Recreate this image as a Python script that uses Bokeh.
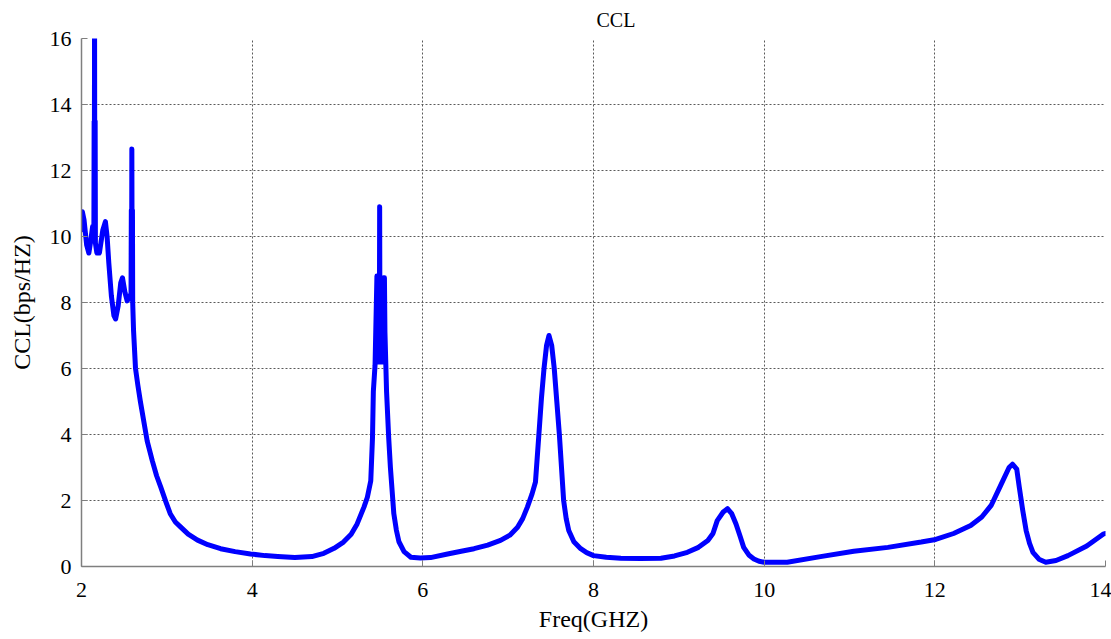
from bokeh.plotting import figure
from bokeh.models import Range1d, FixedTicker
from bokeh.embed import file_html
from bokeh.resources import INLINE

freq = [2.000, 2.010, 2.030, 2.060, 2.086, 2.110, 2.130, 2.145, 2.148, 2.150, 2.153, 2.156,
        2.160, 2.163,
        2.180, 2.210, 2.250, 2.280, 2.300, 2.320, 2.350, 2.380, 2.400, 2.430, 2.460, 2.480,
        2.510, 2.535, 2.560, 2.580, 2.584, 2.587, 2.590, 2.594, 2.597, 2.600, 2.610, 2.633,
        2.660, 2.690,
        2.730, 2.770, 2.830, 2.880, 2.930, 2.990, 3.040, 3.100, 3.160, 3.250, 3.360, 3.480,
        3.630, 3.800, 3.980, 4.150, 4.300, 4.500, 4.700, 4.840, 4.960, 5.070, 5.160, 5.230,
        5.310, 5.350, 5.390, 5.410, 5.420, 5.440,
        5.462, 5.466, 5.470, 5.474, 5.478, 5.482, 5.486, 5.490, 5.494, 5.498, 5.502, 5.506,
        5.510, 5.514, 5.518, 5.522, 5.526, 5.530, 5.534, 5.538, 5.542, 5.546, 5.550, 5.556,
        5.575, 5.600, 5.620, 5.640, 5.660, 5.690, 5.720, 5.780, 5.860, 5.970, 6.090, 6.290,
        6.450, 6.600, 6.760, 6.910, 7.020, 7.110, 7.170, 7.225, 7.280, 7.320, 7.360, 7.390,
        7.420, 7.450, 7.478, 7.510, 7.540, 7.570, 7.600, 7.650, 7.680, 7.710, 7.770, 7.850,
        7.920, 8.000, 8.150, 8.320, 8.550, 8.790, 8.950, 9.100, 9.230, 9.340, 9.400, 9.450,
        9.520, 9.570, 9.620, 9.670, 9.720, 9.760, 9.820, 9.880, 9.940, 10.000, 10.270,
        10.660, 11.050, 11.450, 11.840, 12.010, 12.220, 12.420, 12.550, 12.660, 12.770,
        12.870, 12.910, 12.960, 12.990, 13.030, 13.070, 13.110, 13.150, 13.220, 13.300,
        13.420, 13.560, 13.780, 13.980, 14.000]
ccl = [10.2, 10.75, 10.5, 9.75, 9.5, 9.9, 10.3, 10.0, 13.5, 10.0, 17.0, 10.3,
       13.5, 9.8,
       9.5, 9.5, 10.2, 10.45, 10.0, 9.2, 8.2, 7.6, 7.5, 7.9, 8.6, 8.75,
       8.3, 8.05, 8.2, 8.1, 10.8, 8.1, 12.65, 8.2, 10.8, 8.0, 7.15, 6.0,
       5.5, 5.0,
       4.4, 3.8, 3.2, 2.75, 2.4, 1.95, 1.6, 1.35, 1.2, 0.98, 0.8, 0.66,
       0.54, 0.45, 0.38, 0.33, 0.30, 0.27, 0.30, 0.40, 0.55, 0.74, 0.98, 1.29,
       1.8, 2.1, 2.6, 3.9, 5.3, 6.1,
       8.8, 6.2, 8.8, 6.2, 8.8, 6.2, 8.8, 6.2, 10.9, 6.3, 8.7, 6.2,
       8.7, 6.2, 8.7, 6.2, 8.7, 6.2, 8.7, 6.2, 8.75, 6.3, 8.75, 7.1,
       5.3, 3.9, 3.0, 2.3, 1.6, 1.1, 0.75, 0.45, 0.28, 0.26, 0.27, 0.38,
       0.46, 0.54, 0.65, 0.79, 0.95, 1.19, 1.45, 1.8, 2.2, 2.56, 4.0, 5.1,
       6.0, 6.7, 7.0, 6.7, 6.0, 5.0, 4.0, 2.0, 1.45, 1.09, 0.75, 0.54,
       0.42, 0.33, 0.28, 0.25, 0.24, 0.25, 0.32, 0.43, 0.58, 0.79, 1.0, 1.39,
       1.65, 1.75, 1.6, 1.29, 0.9, 0.58, 0.35, 0.23, 0.16, 0.13, 0.13,
       0.30, 0.46, 0.58, 0.74, 0.82, 1.0, 1.24, 1.5, 1.85, 2.45,
       3.0, 3.1, 2.95, 2.4, 1.7, 1.09, 0.7, 0.43, 0.22, 0.13,
       0.18, 0.33, 0.62, 0.99, 1.0]

x_ticks = [2, 4, 6, 8, 10, 12, 14]
y_ticks = [0, 2, 4, 6, 8, 10, 12, 14, 16]

FONT = "Liberation Serif"

p = figure(width=1111, height=639, output_backend="svg", toolbar_location=None,
           x_range=Range1d(2, 14), y_range=Range1d(0, 16),
           title="CCL", x_axis_label="Freq(GHZ)", y_axis_label="CCL(bps/HZ)",
           min_border_left=81, min_border_top=38, min_border_bottom=73, min_border_right=6)
p.outline_line_color = None
p.background_fill_color = "white"

p.title.align = "left"
p.title.offset = 515
p.title.text_font = FONT
p.title.text_font_size = "20px"
p.title.text_font_style = "normal"
p.title.text_color = "black"
p.title.standoff = 12
p.title.vertical_align = "top"

for ax in (p.xaxis[0], p.yaxis[0]):
    ax.axis_line_color = "#7f7f7f"
    ax.axis_line_width = 1.5
    ax.major_tick_line_color = "#7f7f7f"
    ax.major_tick_in = 6
    ax.major_tick_out = 0
    ax.minor_tick_line_color = None
    ax.major_label_text_font = FONT
    ax.major_label_text_font_size = "22px"
    ax.major_label_text_color = "black"
    ax.axis_label_text_font = FONT
    ax.axis_label_text_font_size = "24px"
    ax.axis_label_text_font_style = "normal"
    ax.axis_label_text_color = "black"

p.xaxis.ticker = FixedTicker(ticks=x_ticks)
p.yaxis.ticker = FixedTicker(ticks=y_ticks)
p.xaxis.major_label_standoff = 16
p.xaxis.axis_label_standoff = 6
p.yaxis.major_label_standoff = 10
p.yaxis.axis_label_standoff = 12

for g in (p.xgrid[0], p.ygrid[0]):
    g.grid_line_color = "#5a5a5a"
    g.grid_line_dash = "2 2"
    g.grid_line_width = 1

p.line(freq, ccl, line_color="#0000ff", line_width=5, line_join="round", line_cap="round")

open("out.html", "w").write(file_html(p, INLINE))
